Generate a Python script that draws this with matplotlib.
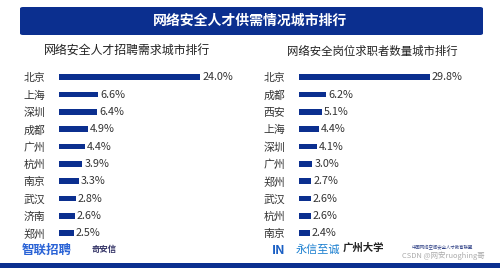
import matplotlib
matplotlib.use("Agg")
import matplotlib.pyplot as plt
from matplotlib.patches import FancyBboxPatch, Rectangle

plt.rcParams['font.family'] = ['Noto Sans CJK SC', 'DejaVu Sans']

# 数据
title = "网络安全人才供需情况城市排行"
left_title = "网络安全人才招聘需求城市排行"
left_cities = ["北京", "上海", "深圳", "成都", "广州", "杭州", "南京", "武汉", "济南", "郑州"]
left_vals = [24.0, 6.6, 6.4, 4.9, 4.4, 3.9, 3.3, 2.8, 2.6, 2.5]
right_title = "网络安全岗位求职者数量城市排行"
right_cities = ["北京", "成都", "西安", "上海", "深圳", "广州", "郑州", "武汉", "杭州", "南京"]
right_vals = [29.8, 6.2, 5.1, 4.4, 4.1, 3.0, 2.7, 2.6, 2.6, 2.4]

W, H = 500, 268
blue = '#0b2f8f'
fig = plt.figure(figsize=(W / 100, H / 100), dpi=100)
fig.patch.set_facecolor('white')

def px(x, y, w, h):
    # 像素坐标(左上原点) -> figure 坐标
    return [x / W, 1 - (y + h) / H, w / W, h / H]

# 顶部标题条
banner = FancyBboxPatch((20 / W, 1 - 35 / H), 463 / W, 28 / H,
                        boxstyle="round,pad=0,rounding_size=0.006",
                        transform=fig.transFigure, facecolor=blue, edgecolor='none')
fig.patches.append(banner)
fig.text(250 / W, 1 - 21 / H, title, color='white', fontsize=10, fontweight='bold',
         ha='center', va='center')
# 底部色条
fig.patches.append(Rectangle((0, 0), 1, 5 / H, transform=fig.transFigure,
                             facecolor=blue, edgecolor='none'))

fig.text(127 / W, 1 - 51 / H, left_title, fontsize=8.6, color='#222222', ha='center', va='center')
fig.text(372 / W, 1 - 51 / H, right_title, fontsize=8.2, color='#222222', ha='center', va='center')

ax_w_px = 170

def draw(ax, cities, vals, scale):
    y = range(len(cities))
    ax.barh(y, vals, height=0.33, color=blue)
    ax.set_ylim(len(cities) - 0.5, -0.5)
    ax.set_xlim(0, ax_w_px / scale)
    for i, v in enumerate(vals):
        ax.text(v + 2.0 / scale, i, f"{v:.1f}%", va='center', ha='left',
                fontsize=7.8, color='#333333')
    ax.set_yticks(list(y))
    ax.set_yticklabels(cities, fontsize=7.8, color='#333333')
    ax.tick_params(axis='y', length=0, pad=10)
    ax.set_xticks([])
    for s in ax.spines.values():
        s.set_visible(False)
    ax.patch.set_alpha(0)

ax1 = fig.add_axes(px(59.3, 68.6, ax_w_px, 173.3))
draw(ax1, left_cities, left_vals, 141 / 24.0)
ax2 = fig.add_axes(px(299.3, 68.6, ax_w_px, 173.3))
draw(ax2, right_cities, right_vals, 130.7 / 29.8)

# 底部 logo 文字
fig.text(22 / W, 1 - 250 / H, "智联招聘", fontsize=9, color='#2a63d6', fontweight='bold', va='center')
fig.text(92 / W, 1 - 249 / H, "奇安信", fontsize=6, color='#333366', fontweight='bold', va='center')
fig.text(272 / W, 1 - 250 / H, "IN", fontsize=9, color='#1a5fc4', fontweight='bold', style='italic', va='center')
fig.text(296 / W, 1 - 250 / H, "永信至诚", fontsize=8, color='#1a7fd0', va='center')
fig.text(343 / W, 1 - 248 / H, "广州大学", fontsize=7.5, color='#222222', fontweight='bold', va='center')
fig.text(412 / W, 1 - 248 / H, "中国网络空间安全人才教育联盟", fontsize=3.2, color='#334488', va='center')
fig.text(402 / W, 1 - 256 / H, "CSDN @网安ruoghing哥", fontsize=5.4, color='#aaaaaa', va='center')

fig.savefig("out.png", dpi=100, facecolor='white')
